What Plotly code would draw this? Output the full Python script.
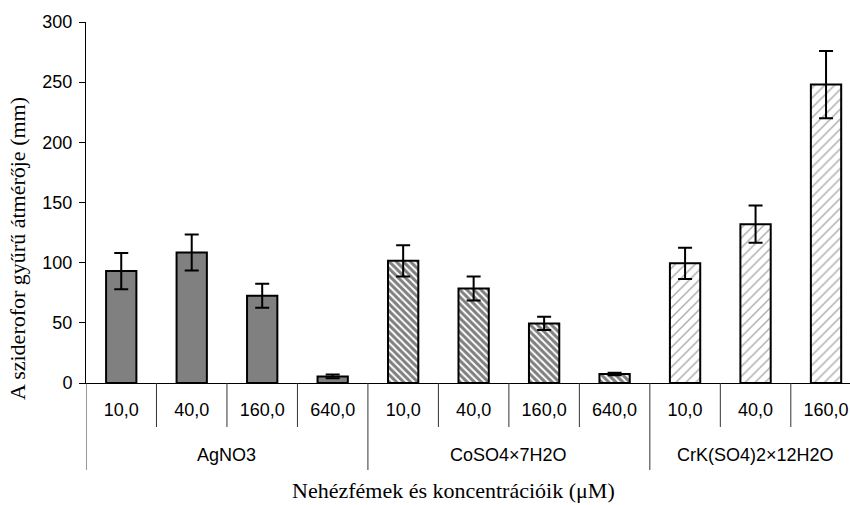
import plotly.graph_objects as go

groups = ["AgNO3"] * 4 + ["CoSO4×7H2O"] * 4 + ["CrK(SO4)2×12H2O"] * 3
concentrations = ["10,0", "40,0", "160,0", "640,0",
                  "10,0", "40,0", "160,0", "640,0",
                  "10,0", "40,0", "160,0"]
values = [93, 108.5, 72.5, 5.5, 101.5, 78.5, 49.5, 7.5, 99.5, 132, 248]
errors = [15, 15, 10, 1.5, 13, 10, 5.5, 1, 13, 15.5, 28]

y_ticks = [0, 50, 100, 150, 200, 250, 300]

group_names = ["AgNO3", "CoSO4×7H2O", "CrK(SO4)2×12H2O"]
group_styles = {
    "AgNO3": dict(color="#808080"),
    "CoSO4×7H2O": dict(color="#ffffff",
                       pattern=dict(shape="\\", fgcolor="#000000", bgcolor="#ffffff",
                                    size=5, solidity=0.6)),
    "CrK(SO4)2×12H2O": dict(color="#ffffff",
                            pattern=dict(shape="/", fgcolor="#555555", bgcolor="#ffffff",
                                         size=7, solidity=0.2)),
}

positions = list(range(len(values)))

fig = go.Figure()
for g in group_names:
    idx = [i for i, gg in enumerate(groups) if gg == g]
    fig.add_trace(go.Bar(
        x=[positions[i] for i in idx],
        y=[values[i] for i in idx],
        width=0.43,
        marker=dict(line=dict(color="black", width=2), **group_styles[g]),
        error_y=dict(type="data", array=[errors[i] for i in idx], visible=True,
                     color="black", thickness=2, width=7),
        showlegend=False,
    ))

n = len(values)
x_range = [-0.5, 10.34]
H = 361.0
W = 764.0

# dividers: short ones between concentrations, long ones between groups
for i in range(-1, n):
    b = i + 0.5
    if b > x_range[1]:
        continue
    if i == -1 or i == n - 1 or groups[i] != groups[i + 1]:
        y1 = -87 / H
    else:
        y1 = -44 / H
    fig.add_shape(type="line", xref="x", yref="paper",
                  x0=b, x1=b, y0=0, y1=y1,
                  line=dict(color="#333333", width=1))

annotations = []
for g in group_names:
    idx = [i for i, gg in enumerate(groups) if gg == g]
    annotations.append(dict(
        text=g, xref="x", yref="paper",
        x=sum(positions[i] for i in idx) / len(idx), y=-(455 - 383) / H,
        xanchor="center", yanchor="middle", showarrow=False,
        font=dict(family="Liberation Sans, Arial", size=18, color="black")))

annotations += [
    dict(text="A sziderofor gyűrű átmérője (mm)", textangle=-90,
         xref="paper", yref="paper", x=(17 - 86) / W, y=(383 - 249) / H,
         xanchor="center", yanchor="middle", showarrow=False,
         font=dict(family="Liberation Serif, Times New Roman", size=22, color="black")),
    dict(text="Nehézfémek és koncentrációik (μM)",
         xref="paper", yref="paper", x=(453 - 86) / W, y=-(490 - 383) / H,
         xanchor="center", yanchor="middle", showarrow=False,
         font=dict(family="Liberation Serif, Times New Roman", size=22, color="black")),
]

fig.update_layout(
    width=850, height=505,
    margin=dict(l=86, r=0, t=22, b=122, autoexpand=False),
    paper_bgcolor="white", plot_bgcolor="white",
    barmode="overlay",
    font=dict(family="Liberation Sans, Arial", size=18, color="black"),
    xaxis=dict(
        range=x_range,
        automargin=False,
        tickmode="array", tickvals=positions, ticktext=concentrations,
        showline=True, linecolor="black", linewidth=1,
        showgrid=False, zeroline=False, ticks="",
        ticklabelstandoff=10,
        tickfont=dict(family="Liberation Sans, Arial", size=18, color="black"),
    ),
    yaxis=dict(
        range=[0, 300],
        automargin=False,
        tickvals=y_ticks,
        showline=True, linecolor="black", linewidth=1,
        showgrid=False, zeroline=False,
        ticks="outside", ticklen=6, tickcolor="black",
        ticklabelstandoff=3,
        tickfont=dict(family="Liberation Sans, Arial", size=18, color="black"),
    ),
    annotations=annotations,
)

fig.write_html("out.html",
               config={"displayModeBar": False},
               post_script="document.body.style.margin='0';document.body.style.overflow='hidden';")
